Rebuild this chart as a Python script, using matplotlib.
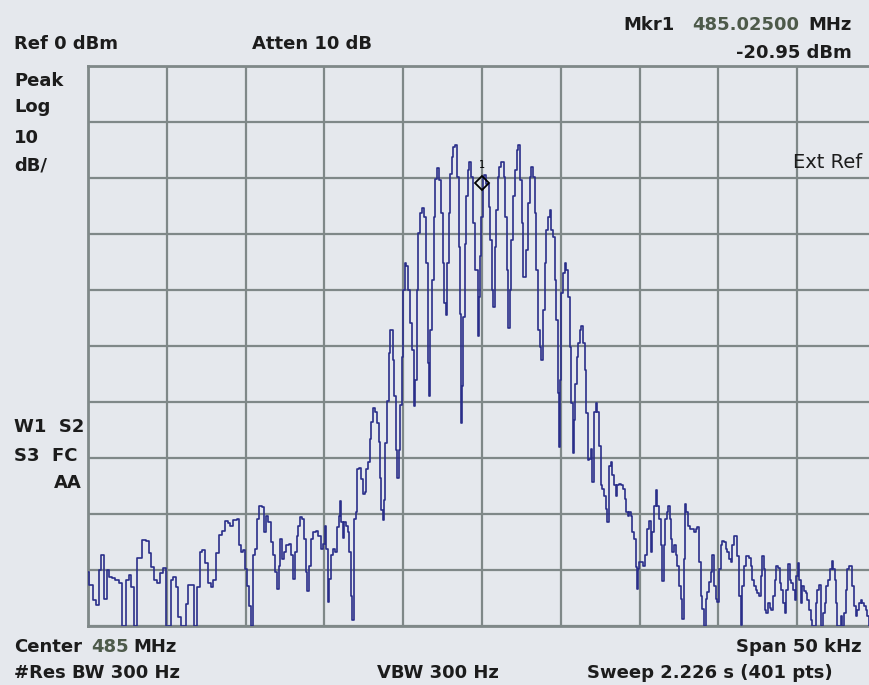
import matplotlib
matplotlib.use('Agg')
import matplotlib.pyplot as plt
import numpy as np

# trace: offset from 485 MHz (kHz) and level (dBm)
freq_khz = [-25.00, -24.81, -24.55, -24.38, -24.23, -24.08, -23.91, -23.73, -23.58, -23.37,
            -23.15, -22.94, -22.73, -22.45, -22.30, -22.19, -21.97, -21.76, -21.44, -21.22,
            -21.07, -20.90, -20.69, -20.51, -20.30, -20.15, -20.00, -19.87, -19.66, -19.51,
            -19.36, -19.18, -19.08, -18.80, -18.76, -18.58, -18.37, -18.22, -18.00, -17.79,
            -17.68, -17.51, -17.30, -17.15, -16.97, -16.82, -16.61, -16.39, -16.22, -16.07,
            -15.92, -15.64, -15.46, -15.35, -15.25, -15.08, -15.00, -14.88, -14.73, -14.58,
            -14.46, -14.31, -14.21, -14.04, -13.90, -13.79, -13.63, -13.48, -13.33, -13.17,
            -13.06, -12.96, -12.85, -12.75, -12.65, -12.50, -12.33, -12.17, -12.06, -11.96,
            -11.81, -11.71, -11.60, -11.46, -11.33, -11.25, -11.13, -11.04, -10.92, -10.77,
            -10.63, -10.46, -10.29, -10.15, -10.04, -9.94, -9.83, -9.73, -9.63, -9.52,
            -9.42, -9.25, -9.17, -9.04, -8.96, -8.88, -8.79, -8.69, -8.58, -8.48,
            -8.38, -8.27, -8.19, -8.06, -7.96, -7.90, -7.75, -7.65, -7.50, -7.38,
            -7.29, -7.17, -7.08, -6.96, -6.81, -6.71, -6.61, -6.52, -6.44, -6.35,
            -6.25, -6.18, -6.10, -5.97, -5.89, -5.82, -5.72, -5.61, -5.51, -5.42,
            -5.34, -5.25, -5.13, -5.04, -4.96, -4.87, -4.77, -4.66, -4.53, -4.41,
            -4.28, -4.20, -4.11, -3.98, -3.86, -3.71, -3.60, -3.50, -3.39, -3.33,
            -3.22, -3.14, -3.01, -2.91, -2.76, -2.65, -2.55, -2.44, -2.34, -2.27,
            -2.17, -2.07, -1.97, -1.86, -1.76, -1.65, -1.54, -1.44, -1.37, -1.31,
            -1.23, -1.14, -1.06, -0.95, -0.85, -0.76, -0.63, -0.49, -0.34, -0.23,
            -0.17, -0.08, 0.00, 0.08, 0.21, 0.36, 0.47, 0.57, 0.68, 0.74,
            0.85, 0.93, 1.06, 1.16, 1.31, 1.42, 1.52, 1.63, 1.71, 1.80,
            1.90, 2.05, 2.16, 2.26, 2.37, 2.47, 2.55, 2.65, 2.76, 2.86,
            2.97, 3.08, 3.18, 3.29, 3.39, 3.50, 3.60, 3.71, 3.82, 3.92,
            4.03, 4.13, 4.24, 4.34, 4.45, 4.56, 4.66, 4.77, 4.87, 4.94,
            5.00, 5.08, 5.19, 5.30, 5.40, 5.51, 5.61, 5.72, 5.80, 5.89,
            5.97, 6.06, 6.14, 6.25, 6.35, 6.46, 6.57, 6.67, 6.78, 6.85,
            6.95, 7.06, 7.17, 7.27, 7.38, 7.48, 7.59, 7.69, 7.80, 7.91,
            8.01, 8.12, 8.22, 8.33, 8.43, 8.54, 8.65, 8.75, 8.90, 9.03,
            9.11, 9.20, 9.28, 9.39, 9.49, 9.60, 9.70, 9.81, 9.87, 9.96,
            10.02, 10.17, 10.30, 10.38, 10.51, 10.66, 10.76, 10.87, 10.97, 11.08,
            11.18, 11.29, 11.40, 11.48, 11.57, 11.65, 11.78, 11.86, 11.95, 12.03,
            12.14, 12.24, 12.35, 12.45, 12.56, 12.66, 12.75, 12.83, 12.92, 13.00,
            13.09, 13.26, 13.41, 13.51, 13.62, 13.72, 13.83, 13.93, 14.04, 14.15,
            14.25, 14.36, 14.46, 14.57, 14.67, 14.78, 14.89, 14.99, 15.10, 15.20,
            15.31, 15.41, 15.52, 15.63, 15.73, 15.84, 15.94, 16.03, 16.15, 16.26,
            16.36, 16.47, 16.57, 16.68, 16.79, 16.89, 17.00, 17.10, 17.21, 17.31,
            17.42, 17.53, 17.63, 17.74, 17.84, 17.91, 17.99, 18.10, 18.20, 18.31,
            18.41, 18.52, 18.63, 18.73, 18.84, 18.94, 19.05, 19.15, 19.26, 19.37,
            19.47, 19.58, 19.68, 19.79, 19.89, 20.00, 20.08, 20.17, 20.27, 20.38,
            20.49, 20.59, 20.70, 20.80, 20.91, 21.02, 21.12, 21.23, 21.33, 21.44,
            21.52, 21.61, 21.69, 21.78, 21.90, 22.03, 22.14, 22.24, 22.33, 22.41,
            22.50, 22.60, 22.71, 22.81, 22.92, 23.02, 23.13, 23.24, 23.34, 23.45,
            23.55, 23.66, 23.76, 23.87, 23.98, 24.08, 24.19, 24.29, 24.40, 24.50,
            24.61]

level_dbm = [-90.3, -92.7, -95.4, -96.3, -90.0, -87.3, -95.1, -90.0, -91.2, -91.5,
             -91.8, -92.4, -100, -91.8, -90.9, -93.0, -100, -87.9, -84.6, -84.9,
             -87.0, -89.4, -91.8, -92.4, -90.6, -89.7, -100, -100, -91.8, -91.2,
             -93.0, -98.4, -100, -100, -96.0, -92.7, -92.7, -100, -93.0, -86.7,
             -86.4, -88.8, -92.4, -93.0, -91.8, -87.0, -83.7, -83.1, -81.3, -81.6,
             -82.2, -81.0, -80.9, -85.6, -86.8, -86.5, -89.8, -92.8, -96.4, -100,
             -87.4, -86.2, -80.9, -78.5, -78.8, -83.3, -80.3, -81.5, -85.0, -87.4,
             -90.4, -93.4, -89.2, -84.5, -88.0, -86.8, -85.6, -85.3, -87.4, -91.6,
             -86.8, -83.9, -82.1, -80.6, -80.9, -84.5, -90.4, -93.7, -89.2, -84.5,
             -83.3, -83.0, -83.9, -86.2, -85.3, -82.1, -86.2, -95.8, -91.6, -87.4,
             -86.2, -86.8, -82.4, -80.3, -77.6, -81.5, -84.2, -81.5, -82.1, -83.3,
             -86.8, -94.6, -99.0, -80.9, -79.7, -72.0, -71.7, -73.7, -76.4, -76.1,
             -72.0, -70.8, -66.6, -63.6, -61.0, -61.8, -63.8, -67.1, -73.6, -79.3,
             -81.0, -77.5, -67.4, -59.9, -51.3, -47.1, -47.1, -52.5, -59.0, -68.6,
             -73.6, -68.6, -60.5, -51.9, -40.0, -35.2, -35.8, -40.0, -45.9, -50.7,
             -60.8, -56.1, -40.0, -29.9, -26.3, -25.4, -26.9, -35.2, -53.1, -59.0,
             -47.1, -38.2, -26.9, -20.1, -18.3, -20.4, -26.3, -35.2, -42.4, -44.5,
             -35.2, -26.3, -19.2, -16.2, -14.4, -14.1, -19.8, -32.3, -44.2, -63.8,
             -57.2, -44.8, -31.7, -23.3, -18.6, -17.1, -19.8, -28.1, -36.4, -48.3,
             -41.2, -34.0, -26.9, -19.8, -19.5, -21.0, -25.1, -31.1, -40.0, -43.0,
             -32.3, -25.7, -19.8, -18.0, -17.1, -19.8, -26.9, -36.4, -46.8, -40.0,
             -31.1, -23.3, -18.6, -15.0, -14.1, -20.4, -28.1, -37.6, -37.6, -32.9,
             -24.5, -19.8, -18.0, -19.8, -26.3, -36.4, -47.1, -50.1, -52.5, -43.6,
             -35.2, -29.3, -26.9, -25.7, -29.3, -30.5, -38.2, -45.3, -58.4, -68.0,
             -56.1, -40.6, -37.0, -35.2, -36.4, -41.2, -50.1, -60.2, -69.1, -63.2,
             -56.7, -51.9, -49.5, -47.1, -46.5, -49.5, -54.3, -62.0, -70.3, -70.2,
             -68.4, -74.3, -61.8, -60.1, -61.8, -67.8, -74.9, -75.5, -76.7, -79.1,
             -81.5, -71.4, -70.8, -73.1, -74.9, -76.7, -74.9, -74.6, -74.9, -75.5,
             -77.3, -79.7, -80.3, -79.7, -80.3, -83.3, -84.5, -89.5, -93.4, -89.8,
             -88.6, -88.6, -89.2, -87.4, -82.7, -81.2, -86.8, -83.3, -78.5, -75.8,
             -78.5, -80.9, -85.6, -91.9, -85.6, -80.9, -79.7, -78.5, -80.9, -84.5,
             -86.8, -85.6, -87.4, -89.2, -92.8, -95.2, -98.7, -88.0, -78.2, -79.7,
             -82.1, -82.7, -82.7, -83.3, -82.7, -82.4, -88.6, -94.6, -96.9, -100,
             -95.2, -94.0, -92.2, -90.4, -87.4, -92.8, -95.2, -95.8, -89.8, -85.6,
             -84.8, -85.0, -86.2, -86.8, -88.0, -88.6, -85.6, -83.9, -83.9, -87.5,
             -94.7, -99.8, -92.9, -89.3, -87.5, -87.5, -87.8, -89.3, -91.7, -92.9,
             -93.5, -94.1, -94.7, -91.1, -87.5, -89.9, -97.1, -97.7, -95.9, -96.8,
             -97.1, -94.7, -91.7, -89.3, -89.6, -92.3, -93.5, -95.9, -97.7, -93.5,
             -89.0, -91.7, -92.3, -93.5, -95.3, -91.1, -88.7, -91.7, -95.9, -92.9,
             -93.8, -94.1, -95.3, -97.1, -98.9, -100, -100, -95.9, -93.5, -92.6,
             -100, -100, -97.7, -95.9, -92.9, -91.7, -89.9, -88.4, -89.9, -91.7,
             -95.9, -100, -100, -98.3, -100, -97.7, -93.5, -89.9, -89.3, -89.3,
             -92.9, -96.5, -98.3, -97.1, -95.9, -95.3, -95.9, -96.5, -97.1, -98.3,
             -100]

marker_khz = 0.025
marker_dbm = -20.95

W, H = 870, 685
bg = '#e5e8ed'
grid_col = '#7f8888'
txt_col = '#1c1c1c'
num_col = '#4d5a4a'

fig = plt.figure(figsize=(W / 100, H / 100), dpi=100, facecolor=bg)
ax = fig.add_axes([88 / W, (H - 626) / H, 788 / W, 560 / H])
ax.set_facecolor(bg)

ax.plot(freq_khz, level_dbm, color='#2a2e8a', lw=1.2, drawstyle='steps-mid', zorder=3)
ax.plot(marker_khz, marker_dbm, marker='D', ms=7, mfc='none', mec='black', mew=1.3, zorder=4)
ax.text(marker_khz, marker_dbm + 3.2, '1', ha='center', va='center', fontsize=7, color='black')

ax.set_xlim(-25, 25)
ax.set_ylim(-100, 0)
ax.set_xticks(np.arange(-25, 26, 5))
ax.set_yticks(np.arange(-100, 1, 10))
ax.grid(True, color=grid_col, lw=1.6)
ax.tick_params(length=0, labelbottom=False, labelleft=False)
for s in ax.spines.values():
    s.set_color(grid_col)
    s.set_linewidth(2)


def label(x, y, s, ha='left', bold=True, size=13, color=txt_col):
    fig.text(x / W, 1 - y / H, s, ha=ha, va='baseline', fontsize=size,
             fontweight='bold' if bold else 'normal', color=color, family='DejaVu Sans')


label(14, 49, 'Ref 0 dBm')
label(252, 49, 'Atten 10 dB')
label(623, 30, 'Mkr1')
label(692, 30, '485.02500', color=num_col)
label(852, 30, 'MHz', ha='right')
label(852, 58, '-20.95 dBm', ha='right')
label(14, 86, 'Peak')
label(14, 112, 'Log')
label(14, 143, '10')
label(14, 170, 'dB/')
label(862, 168, 'Ext Ref', ha='right', bold=False, size=14)
label(14, 432, 'W1  S2')
label(14, 461, 'S3  FC')
label(82, 488, 'AA', ha='right')
label(14, 652, 'Center')
label(91, 652, '485', color=num_col)
label(133, 652, 'MHz')
label(862, 652, 'Span 50 kHz', ha='right')
label(14, 678, '#Res BW 300 Hz')
label(377, 678, 'VBW 300 Hz')
label(587, 678, 'Sweep 2.226 s (401 pts)')

fig.savefig('out.png', dpi=100, facecolor=bg)
